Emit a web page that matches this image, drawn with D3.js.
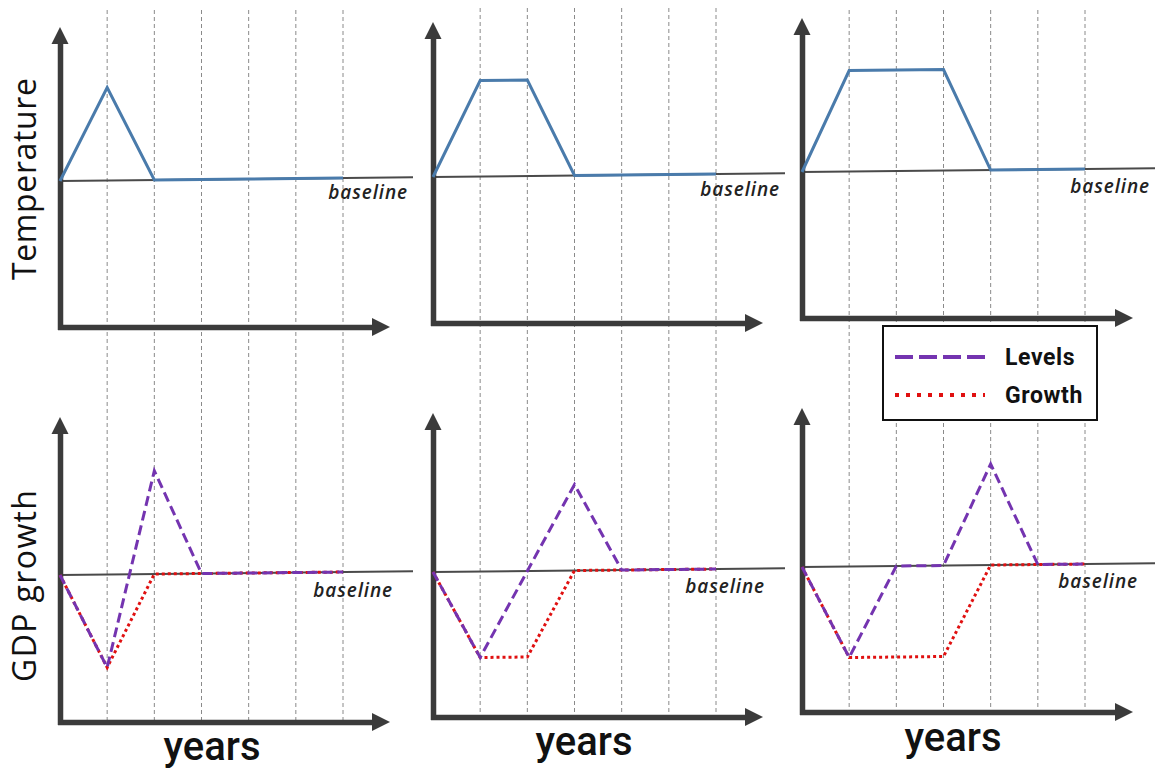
<!DOCTYPE html>
<html><head><meta charset="utf-8">
<script src="https://cdn.jsdelivr.net/npm/d3@7"></script>
<style>body{margin:0;background:#fff}svg{display:block}</style>
</head><body><svg id="c" width="1155" height="770"></svg>
<script>
// ---------- data ----------
const years = [0, 1, 2, 3, 4, 5, 6];
const gridYears = [1, 2, 3, 4, 5, 6];
const tempShort  = [0, 1, 0, 0, 0, 0, 0];
const tempMedium = [0, 1, 1, 0, 0, 0, 0];
const tempLong   = [0, 1, 1, 1, 0, 0, 0];
const levelsShort  = [0, -1, 1.11, 0, 0, 0, 0];
const growthShort  = [0, -1, 0, 0, 0, 0, 0];
const levelsMedium = [0, -1, 0, 1, 0, 0, 0];
const growthMedium = [0, -1, -1, 0, 0, 0, 0];
const levelsLong   = [0, -1, 0, 0, 1.11, 0, 0];
const growthLong   = [0, -1, -1, -1, 0, 0, 0];
const rowLabels = ["Temperature", "GDP growth"];
const xLabel = "years";
const baselineLabel = "baseline";
const legendLabels = ["Levels", "Growth"];

// ---------- layout ----------
const cols = [
  {ox: 60,  tip: 390,  gridTop: 10, gridBot: 723, baseEnd: 413},
  {ox: 433, tip: 763,  gridTop: 8,  gridBot: 720, baseEnd: 785},
  {ox: 802, tip: 1133, gridTop: 10, gridBot: 715, baseEnd: 1155}
];
const panels = [
  {col: 0, axisY: 327, topY: 27, baseY: 181, unit: 93,  lblX: 408,  lblY: 199, series: [{v: tempShort, k: "temp"}]},
  {col: 1, axisY: 323, topY: 22, baseY: 177, unit: 96,  lblX: 780,  lblY: 196, series: [{v: tempMedium, k: "temp"}]},
  {col: 2, axisY: 318, topY: 18, baseY: 172, unit: 101, lblX: 1150, lblY: 193, series: [{v: tempLong, k: "temp"}]},
  {col: 0, axisY: 722, topY: 417, baseY: 575, unit: 93, lblX: 393,  lblY: 597, series: [{v: growthShort, k: "growth"}, {v: levelsShort, k: "levels"}], xl: {x: 212, y: 760}},
  {col: 1, axisY: 717, topY: 413, baseY: 572, unit: 86, lblX: 765,  lblY: 593, series: [{v: growthMedium, k: "growth"}, {v: levelsMedium, k: "levels"}], xl: {x: 584, y: 755}},
  {col: 2, axisY: 712, topY: 408, baseY: 567, unit: 91, lblX: 1138, lblY: 588, series: [{v: growthLong, k: "growth"}, {v: levelsLong, k: "levels"}], xl: {x: 953, y: 751}}
];
const tilt = 0.0105; // baseline slope (px per px)
const styles = {
  temp:   {stroke: "#4a7bab", width: 3, dash: null},
  levels: {stroke: "#7434b0", width: 3, dash: "10,5"},
  growth: {stroke: "#e01010", width: 3, dash: "3,3"}
};
const axisColor = "#3b3b3b";

const svg = d3.select("#c");
svg.append("rect").attr("width", 1155).attr("height", 770).attr("fill", "#fff");

// gridlines per column
cols.forEach(c => {
  c.x = d3.scaleLinear().domain([0, 6]).range([c.ox, c.ox + 283]);
  svg.append("g").selectAll("line").data(gridYears).join("line")
    .attr("x1", d => c.x(d)).attr("x2", d => c.x(d))
    .attr("y1", c.gridTop).attr("y2", c.gridBot)
    .attr("stroke", "#8a8a8a").attr("stroke-width", 1).attr("stroke-dasharray", "4,3");
});

panels.forEach(p => {
  const c = cols[p.col];
  const x = c.x;
  const y = d3.scaleLinear().domain([0, 1]).range([p.baseY, p.baseY - p.unit]);
  const g = svg.append("g");
  const yPos = (i, v) => y(v) - (x(i) - c.ox) * tilt;

  // baseline
  g.append("line").attr("x1", c.ox).attr("y1", p.baseY)
    .attr("x2", c.baseEnd).attr("y2", p.baseY - (c.baseEnd - c.ox) * tilt)
    .attr("stroke", "#4a4a4a").attr("stroke-width", 2);

  // axes via d3 axis generators
  const xa = d3.scaleLinear().domain([0, 1]).range([c.ox - 2.5, c.tip - 14]);
  const gx = g.append("g").attr("transform", `translate(0,${p.axisY})`)
    .call(d3.axisBottom(xa).tickValues([]).tickSizeOuter(0));
  gx.select(".domain").attr("stroke", axisColor).attr("stroke-width", 5.5);
  const ya = d3.scaleLinear().domain([0, 1]).range([p.axisY + 2.5, p.topY + 14]);
  const gy = g.append("g").attr("transform", `translate(${c.ox},0)`)
    .call(d3.axisLeft(ya).tickValues([]).tickSizeOuter(0));
  gy.select(".domain").attr("stroke", axisColor).attr("stroke-width", 5.5);
  // arrowheads
  g.append("path").attr("fill", axisColor)
    .attr("d", `M${c.tip},${p.axisY} L${c.tip - 18},${p.axisY - 9} L${c.tip - 18},${p.axisY + 9} Z`);
  g.append("path").attr("fill", axisColor)
    .attr("d", `M${c.ox},${p.topY} L${c.ox - 8.5},${p.topY + 17} L${c.ox + 8.5},${p.topY + 17} Z`);

  // series
  const line = d3.line();
  p.series.forEach(s => {
    const st = styles[s.k];
    g.append("path")
      .attr("d", line(years.map(i => [x(i), yPos(i, s.v[i])])))
      .attr("fill", "none").attr("stroke", st.stroke).attr("stroke-width", st.width)
      .attr("stroke-linejoin", "miter")
      .attr("stroke-dasharray", st.dash);
  });

  // baseline label
  g.append("text").attr("x", p.lblX).attr("y", p.lblY)
    .attr("text-anchor", "end")
    .style("font-family", "'Open Sans', sans-serif").style("font-style", "italic")
    .style("font-weight", 600).style("font-size", "19px").style("letter-spacing", "0.9px")
    .attr("fill", "#222").text(baselineLabel);

  if (p.xl) {
    g.append("text").attr("x", p.xl.x).attr("y", p.xl.y).attr("text-anchor", "middle")
      .style("font-family", "Roboto, sans-serif").style("font-weight", 500)
      .style("font-size", "40px").attr("fill", "#111").text(xLabel);
  }
});

// row labels
[[25, 179, 202], [25, 586, 192]].forEach((pos, i) => {
  svg.append("text")
    .attr("transform", `translate(${pos[0] + 11},${pos[1]}) rotate(-90)`)
    .attr("text-anchor", "middle")
    .attr("textLength", pos[2]).attr("lengthAdjust", "spacing")
    .style("font-family", "'Open Sans', sans-serif").style("font-size", "32px")
    .attr("fill", "#111").text(rowLabels[i]);
});

// legend
const lg = svg.append("g");
lg.append("rect").attr("x", 883).attr("y", 326).attr("width", 214).attr("height", 94)
  .attr("fill", "#fff").attr("stroke", "#111").attr("stroke-width", 2);
const legendKeys = [
  {k: "levels", y: 357, dash: "18,6", w: 4, stroke: styles.levels.stroke},
  {k: "growth", y: 395, dash: "4,7", w: 4, stroke: styles.growth.stroke}
];
legendKeys.forEach((d, i) => {
  lg.append("line").attr("x1", 895).attr("x2", 985).attr("y1", d.y).attr("y2", d.y)
    .attr("stroke", d.stroke).attr("stroke-width", d.w).attr("stroke-dasharray", d.dash);
  lg.append("text").attr("x", 1005).attr("y", d.y + 8)
    .style("font-family", "Roboto, sans-serif").style("font-weight", 700)
    .style("font-size", "23px").style("letter-spacing", "0.6px").attr("fill", "#111").text(legendLabels[i]);
});
</script></body></html>
